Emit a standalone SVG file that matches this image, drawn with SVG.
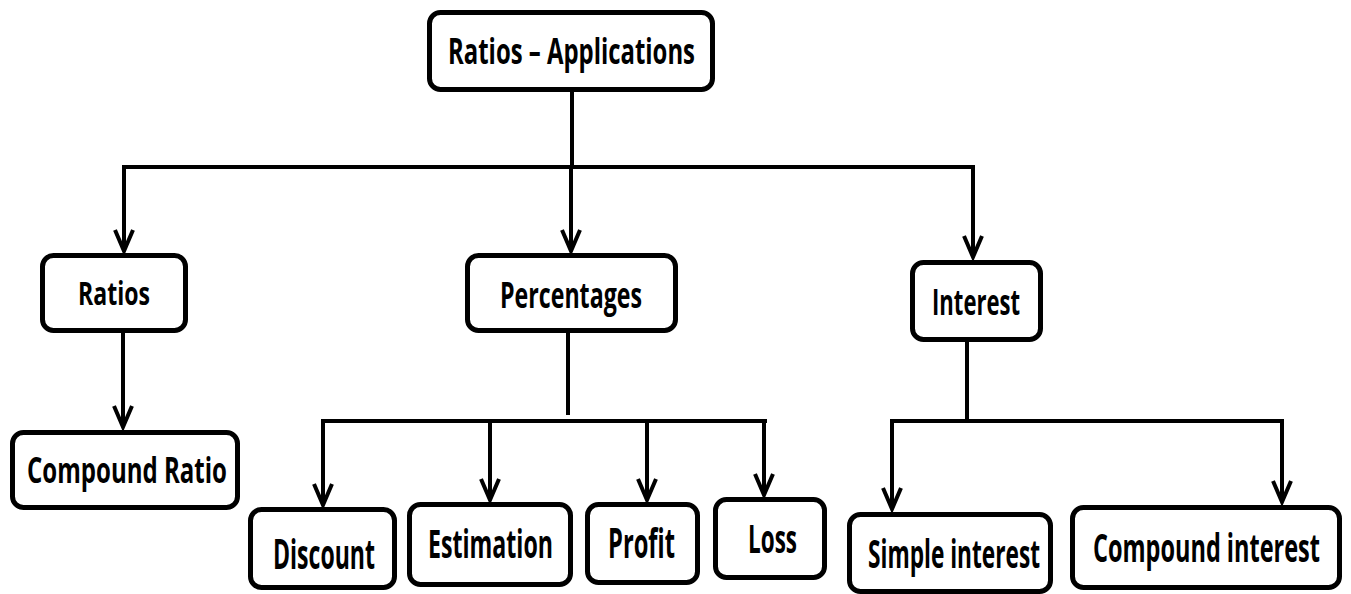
<svg xmlns="http://www.w3.org/2000/svg" width="1351" height="594" viewBox="0 0 1351 594">
  <defs>
    <style>
      .box { fill: #ffffff; stroke: #000000; stroke-width: 5; }
      .lbl { font-family: "Open Sans", "Liberation Sans", sans-serif; font-weight: bold; fill: #000000; text-anchor: start; }
      .wire { fill: none; stroke: #000000; stroke-width: 4; stroke-linecap: square; }
      .arrow { fill: none; stroke: #000000; stroke-width: 4; marker-end: url(#head); }
    </style>
    <marker id="head" markerUnits="userSpaceOnUse" viewBox="-24 -12 28 24" refX="0" refY="0" markerWidth="28" markerHeight="24" orient="auto" overflow="visible">
      <path d="M-21,-9 L0,0 L-21,9" fill="none" stroke="#000000" stroke-width="4" stroke-linejoin="miter"/>
    </marker>
  </defs>
  <rect width="1351" height="594" fill="#ffffff"/>

  <!-- connectors -->
  <g id="connectors">
    <!-- root to first level -->
    <path class="wire" d="M572,92 V167"/>
    <path class="wire" d="M124,167 H973"/>
    <path class="arrow" d="M124,167 V251"/>
    <path class="arrow" d="M571,167 V251"/>
    <path class="arrow" d="M973,167 V257"/>
    <!-- Ratios branch -->
    <path class="arrow" d="M123,333 V427"/>
    <!-- Percentages branch -->
    <path class="wire" d="M568,333 V413"/>
    <path class="wire" d="M323,421 H765"/>
    <path class="arrow" d="M323,421 V505"/>
    <path class="arrow" d="M490,421 V500"/>
    <path class="arrow" d="M647,421 V500"/>
    <path class="arrow" d="M764,421 V495"/>
    <!-- Interest branch -->
    <path class="wire" d="M967,342 V421"/>
    <path class="wire" d="M892,421 H1282"/>
    <path class="arrow" d="M892,421 V509"/>
    <path class="arrow" d="M1282,421 V502"/>
  </g>

  <!-- labels use a tall, narrow face: glyphs are stretched vertically -->
  <g id="node-root">
    <rect class="box" x="429.5" y="12.5" width="283" height="77" rx="11"/>
    <text class="lbl" transform="translate(448,64) scale(1,1.51)" font-size="23.9" textLength="247" lengthAdjust="spacingAndGlyphs">Ratios – Applications</text>
  </g>

  <g id="node-ratios">
    <rect class="box" x="42.5" y="255.5" width="143" height="75" rx="11"/>
    <text class="lbl" transform="translate(78,305) scale(1,1.39)" font-size="23.1" textLength="72" lengthAdjust="spacingAndGlyphs">Ratios</text>
  </g>

  <g id="node-percentages">
    <rect class="box" x="467.5" y="255.5" width="208" height="75" rx="11"/>
    <text class="lbl" transform="translate(500,308) scale(1,1.52)" font-size="23.1" textLength="142" lengthAdjust="spacingAndGlyphs">Percentages</text>
  </g>

  <g id="node-interest">
    <rect class="box" x="912.5" y="262.5" width="128" height="77" rx="11"/>
    <text class="lbl" transform="translate(932,315) scale(1,1.58)" font-size="22.1" textLength="88" lengthAdjust="spacingAndGlyphs">Interest</text>
  </g>

  <g id="node-compound-ratio">
    <rect class="box" x="12.5" y="432.5" width="225" height="75" rx="11"/>
    <text class="lbl" transform="translate(27,483) scale(1,1.45)" font-size="24.1" textLength="200" lengthAdjust="spacingAndGlyphs">Compound Ratio</text>
  </g>

  <g id="node-discount">
    <rect class="box" x="250.5" y="509.5" width="144" height="78" rx="11"/>
    <text class="lbl" transform="translate(273,569) scale(1,1.81)" font-size="23.2" textLength="102" lengthAdjust="spacingAndGlyphs">Discount</text>
  </g>

  <g id="node-estimation">
    <rect class="box" x="409.5" y="504.5" width="161" height="80" rx="11"/>
    <text class="lbl" transform="translate(428,558) scale(1,1.72)" font-size="23.3" textLength="125" lengthAdjust="spacingAndGlyphs">Estimation</text>
  </g>

  <g id="node-profit">
    <rect class="box" x="587.5" y="504.5" width="110" height="78" rx="11"/>
    <text class="lbl" transform="translate(608,558) scale(1,1.72)" font-size="23.9" textLength="67" lengthAdjust="spacingAndGlyphs">Profit</text>
  </g>

  <g id="node-loss">
    <rect class="box" x="715.5" y="499.5" width="109" height="78" rx="11"/>
    <text class="lbl" transform="translate(748,553) scale(1,1.72)" font-size="22.7" textLength="49" lengthAdjust="spacingAndGlyphs">Loss</text>
  </g>

  <g id="node-simple-interest">
    <rect class="box" x="849.5" y="514.5" width="201" height="77" rx="11"/>
    <text class="lbl" transform="translate(868,568) scale(1,1.71)" font-size="22.8" textLength="172" lengthAdjust="spacingAndGlyphs">Simple interest</text>
  </g>

  <g id="node-compound-interest">
    <rect class="box" x="1072.5" y="507.5" width="267" height="80" rx="11"/>
    <text class="lbl" transform="translate(1093,562) scale(1,1.69)" font-size="23.6" textLength="227" lengthAdjust="spacingAndGlyphs">Compound interest</text>
  </g>
</svg>
